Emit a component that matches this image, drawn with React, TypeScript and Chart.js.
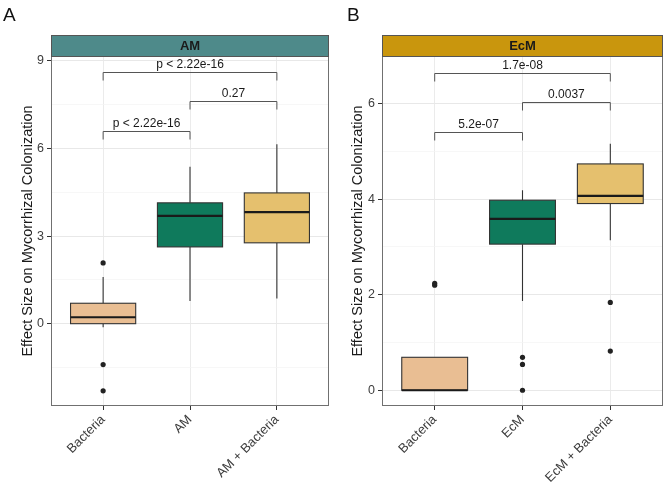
import React, { useEffect, useRef } from 'react';
import { Chart, registerables } from 'chart.js';
Chart.register(...registerables);

const FONT = '"Liberation Sans", Arial, Helvetica, sans-serif';
const Y_TITLE = 'Effect Size on Mycorrhizal Colonization';

// Panel A (AM)
const CATS_A = ['Bacteria', 'AM', 'AM + Bacteria'];
const A_LO = [-0.12, 0.78, 0.86];
const A_Q1 = [0, 2.63, 2.77];
const A_MED = [0.22, 3.69, 3.82];
const A_Q3 = [0.7, 4.14, 4.48];
const A_HI = [1.6, 5.38, 6.15];
const A_OUT = [[2.08, -1.4, -2.3], [], []];
const A_Y_MAJOR = [0, 3, 6, 9];
const A_Y_MINOR = [-1.5, 1.5, 4.5, 7.5];
const A_BR_FROM = [1, 2, 1];
const A_BR_TO = [3, 3, 2];
const A_BR_Y = [8.62, 7.63, 6.6];
const A_BR_LABEL = ['p < 2.22e-16', '0.27', 'p < 2.22e-16'];

// Panel B (EcM)
const CATS_B = ['Bacteria', 'EcM', 'EcM + Bacteria'];
const B_LO = [0, 1.87, 3.14];
const B_Q1 = [0, 3.06, 3.91];
const B_MED = [0, 3.59, 4.07];
const B_Q3 = [0.69, 3.98, 4.74];
const B_HI = [0.69, 4.19, 5.16];
const B_OUT = [[2.2, 2.24], [0.69, 0.54, 0], [1.84, 0.82]];
const B_Y_MAJOR = [0, 2, 4, 6];
const B_Y_MINOR = [1, 3, 5];
const B_BR_FROM = [1, 2, 1];
const B_BR_TO = [3, 3, 2];
const B_BR_Y = [6.65, 6.04, 5.41];
const B_BR_LABEL = ['1.7e-08', '0.0037', '5.2e-07'];

const BOX_FILLS = ['#e9be93', '#0f7a5c', '#e5c06e'];

type Panel = {
  letter: string; strip: string; stripColor: string; cats: string[];
  lo: number[]; q1: number[]; med: number[]; q3: number[]; hi: number[]; out: number[][];
  yMin: number; yMax: number; major: number[]; minor: number[];
  brFrom: number[]; brTo: number[]; brY: number[]; brLabel: string[];
  axisW: number; padRight: number; titlePad: number; letterX: number;
};

const PANEL_A: Panel = {
  letter: 'A', strip: 'AM', stripColor: '#4e8a8a', cats: CATS_A,
  lo: A_LO, q1: A_Q1, med: A_MED, q3: A_Q3, hi: A_HI, out: A_OUT,
  yMin: -2.82, yMax: 9.17, major: A_Y_MAJOR, minor: A_Y_MINOR,
  brFrom: A_BR_FROM, brTo: A_BR_TO, brY: A_BR_Y, brLabel: A_BR_LABEL,
  axisW: 51, padRight: 4, titlePad: 19, letterX: 3,
};
const PANEL_B: Panel = {
  letter: 'B', strip: 'EcM', stripColor: '#c9960d', cats: CATS_B,
  lo: B_LO, q1: B_Q1, med: B_MED, q3: B_Q3, hi: B_HI, out: B_OUT,
  yMin: -0.33, yMax: 7.0, major: B_Y_MAJOR, minor: B_Y_MINOR,
  brFrom: B_BR_FROM, brTo: B_BR_TO, brY: B_BR_Y, brLabel: B_BR_LABEL,
  axisW: 49, padRight: 3, titlePad: 16, letterX: 14,
};

const boxPlugin = {
  id: 'boxes',
  beforeDatasetsDraw(chart: any, _a: any, opts: any) {
    const p: Panel = opts.panel;
    const { ctx, scales: { x, y } } = chart;
    ctx.save();
    for (let i = 0; i < p.cats.length; i++) {
      const v = i + 1;
      const cx = x.getPixelForValue(v);
      const l = x.getPixelForValue(v - 0.375);
      const r = x.getPixelForValue(v + 0.375);
      const yq1 = y.getPixelForValue(p.q1[i]);
      const yq3 = y.getPixelForValue(p.q3[i]);
      ctx.strokeStyle = '#333';
      ctx.lineWidth = 1.1;
      ctx.beginPath();
      ctx.moveTo(cx, y.getPixelForValue(p.hi[i]));
      ctx.lineTo(cx, yq3);
      ctx.moveTo(cx, yq1);
      ctx.lineTo(cx, y.getPixelForValue(p.lo[i]));
      ctx.stroke();
      ctx.fillStyle = BOX_FILLS[i];
      ctx.fillRect(l, yq3, r - l, yq1 - yq3);
      ctx.strokeRect(l, yq3, r - l, yq1 - yq3);
      ctx.strokeStyle = '#1a1a1a';
      ctx.lineWidth = 2.2;
      const ym = y.getPixelForValue(p.med[i]);
      ctx.beginPath();
      ctx.moveTo(l, ym);
      ctx.lineTo(r, ym);
      ctx.stroke();
    }
    ctx.restore();
  },
  afterDraw(chart: any, _a: any, opts: any) {
    const p: Panel = opts.panel;
    const { ctx, chartArea: ca, scales: { x, y } } = chart;
    ctx.save();
    // brackets
    ctx.strokeStyle = '#555';
    ctx.lineWidth = 1;
    ctx.fillStyle = '#1a1a1a';
    ctx.font = `12px ${FONT}`;
    ctx.textAlign = 'center';
    ctx.textBaseline = 'bottom';
    for (let i = 0; i < p.brY.length; i++) {
      const x1 = x.getPixelForValue(p.brFrom[i]);
      const x2 = x.getPixelForValue(p.brTo[i]);
      const yy = Math.round(y.getPixelForValue(p.brY[i])) + 0.5;
      ctx.beginPath();
      ctx.moveTo(x1, yy + 8);
      ctx.lineTo(x1, yy);
      ctx.lineTo(x2, yy);
      ctx.lineTo(x2, yy + 8);
      ctx.stroke();
      ctx.fillText(p.brLabel[i], (x1 + x2) / 2, yy - 2);
    }
    // panel border
    ctx.strokeStyle = '#707070';
    ctx.lineWidth = 1;
    ctx.strokeRect(Math.round(ca.left) + 0.5, Math.round(ca.top) + 0.5, Math.round(ca.right - ca.left) - 1, Math.round(ca.bottom - ca.top) - 1);
    // strip
    const st = ca.top - 21;
    ctx.fillStyle = p.stripColor;
    ctx.fillRect(ca.left, st, ca.right - ca.left, 21);
    ctx.strokeStyle = '#555';
    ctx.strokeRect(Math.round(ca.left) + 0.5, Math.round(st) + 0.5, Math.round(ca.right - ca.left) - 1, 21);
    ctx.fillStyle = '#1a1a1a';
    ctx.font = `bold 13px ${FONT}`;
    ctx.textBaseline = 'middle';
    ctx.fillText(p.strip, (ca.left + ca.right) / 2, st + 11);
    // letter
    ctx.font = `19px ${FONT}`;
    ctx.textAlign = 'left';
    ctx.textBaseline = 'alphabetic';
    ctx.fillStyle = '#111';
    ctx.fillText(p.letter, p.letterX, 21);
    ctx.restore();
  },
};

function makeConfig(p: Panel): any {
  const pts: { x: number; y: number }[] = [];
  p.out.forEach((arr, i) => arr.forEach((v) => pts.push({ x: i + 1, y: v })));
  const isMajor = (v: number) => p.major.some((m) => Math.abs(m - v) < 1e-9);
  return {
    type: 'scatter',
    data: {
      datasets: [{
        data: pts, pointRadius: 2.6, pointHoverRadius: 2.6,
        backgroundColor: '#222', borderWidth: 0,
      }],
    },
    plugins: [boxPlugin],
    options: {
      responsive: false,
      animation: false,
      events: [],
      layout: { padding: { top: 56, left: 0, right: p.padRight, bottom: 0 } },
      plugins: { legend: { display: false }, tooltip: { enabled: false }, boxes: { panel: p } },
      scales: {
        x: {
          type: 'linear', min: 0.4, max: 3.6,
          afterBuildTicks: (s: any) => { s.ticks = p.cats.map((_, i) => ({ value: i + 1 })); },
          afterFit: (s: any) => { s.height = 78; },
          border: { display: false },
          grid: { color: '#ebebeb', lineWidth: 1, tickLength: 4, tickColor: '#333' },
          ticks: {
            autoSkip: false, minRotation: 45, maxRotation: 45, padding: 2,
            color: '#3d3d3d', font: { family: FONT, size: 13 },
            callback: (v: number) => p.cats[Math.round(v) - 1] ?? '',
          },
        },
        y: {
          type: 'linear', min: p.yMin, max: p.yMax,
          afterBuildTicks: (s: any) => {
            s.ticks = [...p.minor, ...p.major].sort((a, b) => a - b).map((v) => ({ value: v }));
          },
          afterFit: (s: any) => { s.width = p.axisW; },
          border: { display: false },
          grid: {
            color: (c: any) => (isMajor(c.tick.value) ? '#e8e8e8' : '#f3f3f3'),
            lineWidth: (c: any) => (isMajor(c.tick.value) ? 1 : 0.7),
            tickLength: 4,
            tickColor: (c: any) => (isMajor(c.tick.value) ? '#333' : 'rgba(0,0,0,0)'),
          },
          ticks: {
            autoSkip: false, padding: 3, color: '#3d3d3d', font: { family: FONT, size: 12.5 },
            callback: (v: number) => (isMajor(v) ? String(v) : ''),
          },
          title: {
            display: true, text: Y_TITLE, color: '#1a1a1a',
            font: { family: FONT, size: 14.5 }, padding: { top: p.titlePad, bottom: 0 },
          },
        },
      },
    },
  };
}

function PanelChart({ panel, left }: { panel: Panel; left: number }) {
  const ref = useRef<HTMLCanvasElement>(null);
  useEffect(() => {
    if (!ref.current) return;
    const chart = new Chart(ref.current, makeConfig(panel));
    return () => chart.destroy();
  }, [panel]);
  return (
    <canvas
      ref={ref}
      width={333}
      height={484}
      style={{ position: 'absolute', left, top: 0, width: 333, height: 484 }}
    />
  );
}

export default function App() {
  return (
    <div style={{ position: 'fixed', left: 0, top: 0, width: 666, height: 484, background: '#fff' }}>
      <PanelChart panel={PANEL_A} left={0} />
      <PanelChart panel={PANEL_B} left={333} />
    </div>
  );
}
